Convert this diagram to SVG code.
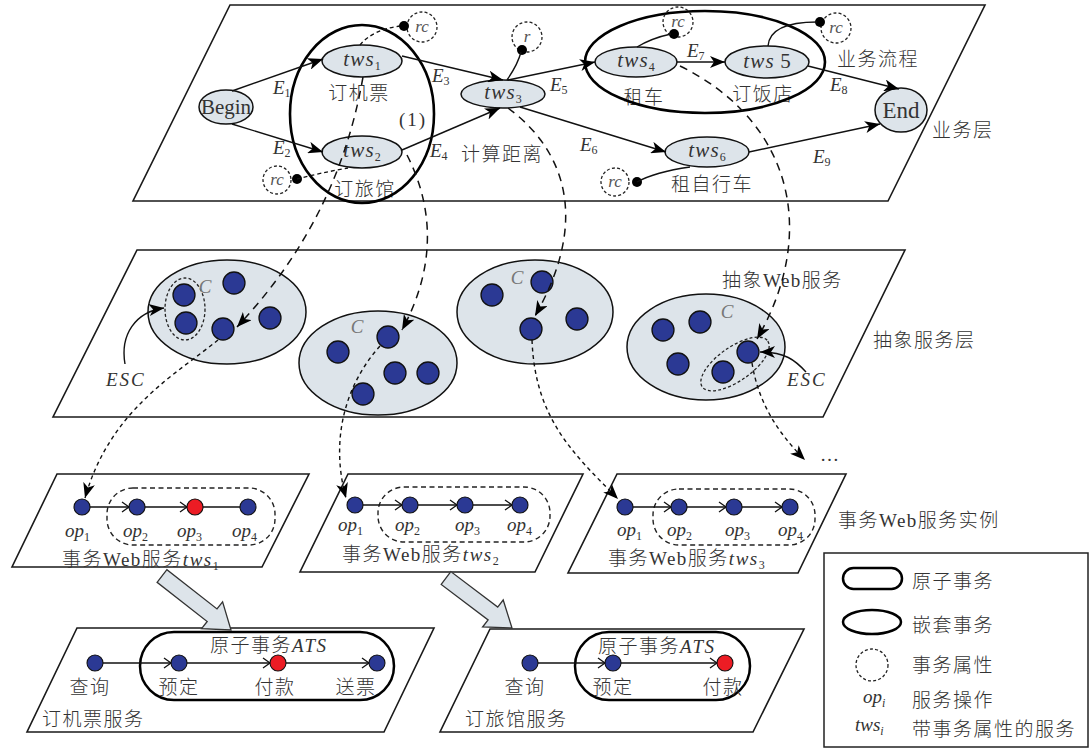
<svg xmlns="http://www.w3.org/2000/svg" width="1090" height="748" viewBox="0 0 1090 748">
<defs>
<style>
.layer{fill:#fff;stroke:#1a1a1a;stroke-width:1.6}
.task{fill:#dde4ea;stroke:#111;stroke-width:1.5}
.nest{fill:none;stroke:#000;stroke-width:2.6}
.prop{fill:none;stroke:#222;stroke-width:1.3;stroke-dasharray:3 2.2}
.svc{fill:#dde4ea;stroke:#111;stroke-width:1.5}
.ws{fill:#2b3994;stroke:#111;stroke-width:1.3}
.op{fill:#2b3994;stroke:#111;stroke-width:1.1}
.pay{fill:#ec1c24;stroke:#111;stroke-width:1.1}
.edge{fill:none;stroke:#111;stroke-width:1.4;marker-end:url(#tip)}
.link{fill:none;stroke:#111;stroke-width:1.4}
.dlink{fill:none;stroke:#111;stroke-width:1.3;stroke-dasharray:4 3}
.map{fill:none;stroke:#111;stroke-width:1.5;stroke-dasharray:8 6;marker-end:url(#tip)}
.inv{fill:none;stroke:#111;stroke-width:1.4;stroke-dasharray:4 3.5;marker-end:url(#tip)}
.seq{fill:none;stroke:#111;stroke-width:1.3;marker-end:url(#chev)}
.plain{fill:none;stroke:#111;stroke-width:1.3}
.box{fill:none;stroke:#222;stroke-width:1.4;stroke-dasharray:5 3.5}
.ats{fill:none;stroke:#000;stroke-width:2.5}
.pin{fill:#000}
.big{fill:#dde4ea;stroke:#333;stroke-width:1.3}
text{font-family:"Liberation Serif","Noto Sans CJK SC",serif;font-size:19px;fill:#333}
.zh{letter-spacing:1.5px;font-weight:300}
.i{font-family:"Liberation Serif",serif;font-style:italic}
.s{font-size:12px;font-style:normal;letter-spacing:0}
.c{text-anchor:middle}
.g{fill:#777}
.t{font-size:21px}
.t .i{letter-spacing:1.2px}
.w{letter-spacing:2px}
.rc{font-family:"Liberation Serif",serif;font-size:17px;font-style:italic;fill:#555;text-anchor:middle}
</style>
<marker id="tip" markerUnits="userSpaceOnUse" markerWidth="16" markerHeight="12" refX="15" refY="6" orient="auto"><path d="M0,0 L15,6 L0,12 L4,6 Z" fill="#000"/></marker>
<marker id="chev" markerUnits="userSpaceOnUse" markerWidth="10" markerHeight="12" refX="8" refY="6" orient="auto"><path d="M1,1 L8,6 L1,11" fill="none" stroke="#111" stroke-width="1.3"/></marker>
</defs>

<!-- layers -->
<g id="business-layer">
<polygon class="layer" points="230,5 985,5 888,201 133,201"/>
<text x="932" y="137" class="zh">业务层</text>
<text x="837" y="66" class="zh">业务流程</text>
</g>
<g id="abstract-layer">
<polygon class="layer" points="137,250 905,250 823,417 53,417"/>
<text x="873" y="347" class="zh">抽象服务层</text>
<text x="722" y="287" class="zh">抽象Web服务</text>
</g>
<g id="instance-layer">
<text x="838" y="527" class="zh">事务Web服务实例</text>
</g>

<!-- business process nodes -->
<g id="begin"><ellipse class="task" cx="226" cy="107" rx="27" ry="17"/><text x="226" y="114" class="c" style="font-size:21px">Begin</text></g>
<g id="tws1"><ellipse class="task" cx="362" cy="61" rx="40" ry="16"/><text x="362" y="66" class="c t"><tspan class="i">tws</tspan><tspan class="s" dy="4">1</tspan></text><text x="359" y="100" class="c zh">订机票</text></g>
<g id="tws2"><ellipse class="task" cx="362" cy="152" rx="40" ry="16"/><text x="362" y="157" class="c t"><tspan class="i">tws</tspan><tspan class="s" dy="4">2</tspan></text><text x="365" y="196" class="c zh">订旅馆</text></g>
<g id="tws3"><ellipse class="task" cx="503" cy="94" rx="42" ry="14"/><text x="503" y="99" class="c t"><tspan class="i">tws</tspan><tspan class="s" dy="4">3</tspan></text><text x="502" y="161" class="c zh">计算距离</text></g>
<g id="tws4"><ellipse class="task" cx="636" cy="62" rx="41" ry="15"/><text x="636" y="67" class="c t"><tspan class="i">tws</tspan><tspan class="s" dy="4">4</tspan></text><text x="644" y="104" class="c zh">租车</text></g>
<g id="tws5"><ellipse class="task" cx="767" cy="62" rx="42" ry="16"/><text x="767" y="68" class="c t"><tspan class="i">tws</tspan> 5</text><text x="763" y="101" class="c zh">订饭店</text></g>
<g id="tws6"><ellipse class="task" cx="707" cy="152" rx="42" ry="15"/><text x="707" y="157" class="c t"><tspan class="i">tws</tspan><tspan class="s" dy="4">6</tspan></text><text x="712" y="191" class="c zh">租自行车</text></g>
<g id="end"><ellipse class="task" cx="901" cy="110" rx="26" ry="22"/><text x="901" y="118" class="c" style="font-size:23px">End</text></g>
<g id="nested-1"><ellipse class="nest" cx="362" cy="114" rx="72" ry="89"/><text x="413" y="126" class="c" style="letter-spacing:2px">(1)</text></g>
<g id="nested-2"><ellipse class="nest" cx="705" cy="62" rx="120" ry="51"/></g>

<!-- transaction properties -->
<g id="prop-tws1"><circle class="prop" cx="422" cy="27" r="15"/><text x="422" y="32" class="rc">rc</text><circle class="pin" cx="404" cy="26" r="5"/></g>
<g id="prop-tws2"><circle class="prop" cx="277" cy="180" r="14"/><text x="277" y="185" class="rc">rc</text><circle class="pin" cx="297" cy="179" r="5"/></g>
<g id="prop-tws3"><circle class="prop" cx="527" cy="37" r="15"/><text x="527" y="42" class="rc">r</text><circle class="pin" cx="522" cy="50" r="5"/></g>
<g id="prop-tws4"><circle class="prop" cx="678" cy="22" r="15"/><text x="678" y="27" class="rc">rc</text><circle class="pin" cx="674" cy="34" r="5"/></g>
<g id="prop-tws5"><circle class="prop" cx="836" cy="28" r="15"/><text x="836" y="33" class="rc">rc</text><circle class="pin" cx="820" cy="22" r="5"/></g>
<g id="prop-tws6"><circle class="prop" cx="615" cy="182" r="14"/><text x="615" y="187" class="rc">rc</text><circle class="pin" cx="637" cy="182" r="5"/></g>

<!-- edge labels -->
<g id="edge-labels">
<text x="273" y="94" class="i">E<tspan class="s" dy="3">1</tspan></text>
<text x="273" y="154" class="i">E<tspan class="s" dy="3">2</tspan></text>
<text x="432" y="82" class="i">E<tspan class="s" dy="3">3</tspan></text>
<text x="430" y="157" class="i">E<tspan class="s" dy="3">4</tspan></text>
<text x="550" y="91" class="i">E<tspan class="s" dy="3">5</tspan></text>
<text x="580" y="151" class="i">E<tspan class="s" dy="3">6</tspan></text>
<text x="687" y="57" class="i">E<tspan class="s" dy="3">7</tspan></text>
<text x="830" y="91" class="i">E<tspan class="s" dy="3">8</tspan></text>
<text x="813" y="163" class="i">E<tspan class="s" dy="3">9</tspan></text>
</g>

<!-- abstract web service clusters -->
<g id="cluster-1">
<ellipse class="svc" cx="227" cy="312" rx="79" ry="52"/>
<ellipse class="prop" cx="185" cy="309" rx="20" ry="31"/>
<circle class="ws" cx="184" cy="295" r="11"/><circle class="ws" cx="186" cy="323" r="11"/>
<circle class="ws" cx="234" cy="283" r="11"/><circle class="ws" cx="270" cy="318" r="11"/><circle class="ws" cx="223" cy="329" r="11"/>
<text x="205" y="293" class="c i g">C</text>
<text x="106" y="386" class="i w">ESC</text>
</g>
<g id="cluster-2">
<ellipse class="svc" cx="378" cy="363" rx="79" ry="52"/>
<circle class="ws" cx="338" cy="352" r="11"/><circle class="ws" cx="388" cy="337" r="11"/><circle class="ws" cx="395" cy="373" r="11"/><circle class="ws" cx="428" cy="373" r="11"/><circle class="ws" cx="363" cy="394" r="11"/>
<text x="357" y="333" class="c i g">C</text>
</g>
<g id="cluster-3">
<ellipse class="svc" cx="535" cy="312" rx="78" ry="52"/>
<circle class="ws" cx="492" cy="295" r="11"/><circle class="ws" cx="542" cy="282" r="11"/><circle class="ws" cx="531" cy="329" r="11"/><circle class="ws" cx="577" cy="319" r="11"/>
<text x="517" y="284" class="c i g">C</text>
</g>
<g id="cluster-4">
<ellipse class="svc" cx="706" cy="347" rx="79" ry="53"/>
<ellipse class="prop" cx="735" cy="364" rx="40" ry="17" transform="rotate(-35 735 364)"/>
<circle class="ws" cx="663" cy="330" r="11"/><circle class="ws" cx="700" cy="322" r="11"/><circle class="ws" cx="678" cy="364" r="11"/><circle class="ws" cx="723" cy="372" r="11"/><circle class="ws" cx="748" cy="352" r="11"/>
<text x="727" y="318" class="c i g">C</text>
<text x="787" y="386" class="i w">ESC</text>
</g>
<g id="more"><text x="820" y="461">…</text></g>

<!-- transactional web service instances -->
<g id="instance-tws1">
<polygon class="layer" points="57,474 309,474 262,567 12,567"/>
<rect class="box" x="107" y="488" width="168" height="57" rx="26"/>
<path class="seq" d="M90,507 H129"/><path class="seq" d="M145,507 H187"/><path class="plain" d="M203,507 H240"/>
<circle class="op" cx="82" cy="507" r="8"/><circle class="op" cx="137" cy="507" r="8"/><circle class="pay" cx="195" cy="507" r="8"/><circle class="op" cx="248" cy="507" r="8"/>
<text x="65" y="537" class="i">op<tspan class="s" dy="4">1</tspan></text>
<text x="123" y="537" class="i">op<tspan class="s" dy="4">2</tspan></text>
<text x="177" y="537" class="i">op<tspan class="s" dy="4">3</tspan></text>
<text x="232" y="537" class="i">op<tspan class="s" dy="4">4</tspan></text>
<text x="62" y="566" class="zh">事务Web服务<tspan class="i">tws</tspan><tspan class="s" dy="4">1</tspan></text>
</g>
<g id="instance-tws2">
<polygon class="layer" points="348,474 583,474 535,572 300,572"/>
<rect class="box" x="378" y="487" width="172" height="55" rx="26"/>
<path class="seq" d="M363,505 H402"/><path class="seq" d="M418,505 H457"/><path class="seq" d="M473,505 H512"/>
<circle class="op" cx="355" cy="505" r="8"/><circle class="op" cx="410" cy="505" r="8"/><circle class="op" cx="465" cy="505" r="8"/><circle class="op" cx="520" cy="505" r="8"/>
<text x="338" y="531" class="i">op<tspan class="s" dy="4">1</tspan></text>
<text x="395" y="531" class="i">op<tspan class="s" dy="4">2</tspan></text>
<text x="455" y="531" class="i">op<tspan class="s" dy="4">3</tspan></text>
<text x="507" y="531" class="i">op<tspan class="s" dy="4">4</tspan></text>
<text x="342" y="561" class="zh">事务Web服务<tspan class="i">tws</tspan><tspan class="s" dy="4">2</tspan></text>
</g>
<g id="instance-tws3">
<polygon class="layer" points="617,474 846,474 798,573 568,573"/>
<rect class="box" x="653" y="489" width="162" height="56" rx="26"/>
<path class="seq" d="M633,507 H671"/><path class="seq" d="M687,507 H726"/><path class="seq" d="M742,507 H782"/>
<circle class="op" cx="625" cy="507" r="8"/><circle class="op" cx="679" cy="507" r="8"/><circle class="op" cx="734" cy="507" r="8"/><circle class="op" cx="790" cy="507" r="8"/>
<text x="617" y="536" class="i">op<tspan class="s" dy="4">1</tspan></text>
<text x="667" y="536" class="i">op<tspan class="s" dy="4">2</tspan></text>
<text x="725" y="536" class="i">op<tspan class="s" dy="4">3</tspan></text>
<text x="778" y="536" class="i">op<tspan class="s" dy="4">4</tspan></text>
<text x="608" y="565" class="zh">事务Web服务<tspan class="i">tws</tspan><tspan class="s" dy="4">3</tspan></text>
</g>

<!-- concrete services with atomic transactions -->
<g id="flight-service">
<polygon class="layer" points="77,628 434,628 384,732 27,732"/>
<rect class="ats" x="140" y="632" width="254" height="68" rx="34"/>
<path class="seq" d="M103,663 H171"/><path class="seq" d="M187,663 H270"/><path class="seq" d="M286,663 H369"/>
<circle class="op" cx="95" cy="663" r="8"/><circle class="op" cx="179" cy="663" r="8"/><circle class="pay" cx="278" cy="663" r="8"/><circle class="op" cx="377" cy="663" r="8"/>
<text x="210" y="652" class="zh">原子事务<tspan class="i">ATS</tspan></text>
<text x="90" y="694" class="c zh">查询</text><text x="179" y="694" class="c zh">预定</text><text x="275" y="694" class="c zh">付款</text><text x="356" y="694" class="c zh">送票</text>
<text x="42" y="726" class="zh">订机票服务</text>
</g>
<g id="hotel-service">
<polygon class="layer" points="490,629 804,629 753,732 440,732"/>
<rect class="ats" x="575" y="632" width="175" height="68" rx="34"/>
<path class="seq" d="M538,663 H605"/><path class="seq" d="M621,663 H717"/>
<circle class="op" cx="530" cy="663" r="8"/><circle class="op" cx="613" cy="663" r="8"/><circle class="pay" cx="725" cy="663" r="8"/>
<text x="598" y="653" class="zh">原子事务<tspan class="i">ATS</tspan></text>
<text x="525" y="694" class="c zh">查询</text><text x="613" y="694" class="c zh">预定</text><text x="723" y="694" class="c zh">付款</text>
<text x="465" y="726" class="zh">订旅馆服务</text>
</g>

<!-- refinement arrows -->
<g id="refine">
<polygon class="big" points="157.1,582.3 166.9,569.7 217,608.9 222.6,601.8 231,630 201.6,628.6 207.2,621.5"/>
<polygon class="big" points="441.2,584.4 450.8,571.6 497.7,607.1 503.2,600 512,628 482.6,627 488.1,619.9"/>
</g>

<!-- legend -->
<g id="legend">
<rect x="824" y="553" width="264" height="194" fill="#fff" stroke="#222" stroke-width="1.5"/>
<rect class="ats" x="843" y="568" width="59" height="21" rx="10.5"/>
<text x="912" y="588" class="zh">原子事务</text>
<ellipse class="ats" cx="872" cy="622" rx="29" ry="12"/>
<text x="912" y="632" class="zh">嵌套事务</text>
<circle class="prop" cx="872" cy="665" r="16"/>
<text x="912" y="672" class="zh">事务属性</text>
<text x="863" y="703" class="i">op<tspan class="s" dy="4" style="font-style:italic">i</tspan></text>
<text x="912" y="707" class="zh">服务操作</text>
<text x="855" y="731" class="i">tws<tspan class="s" dy="4" style="font-style:italic">i</tspan></text>
<text x="912" y="736" class="zh">带事务属性的服务</text>
</g>

<!-- connectors -->
<g id="connectors">
<path class="edge" d="M232,91 L323,59"/>
<path class="edge" d="M232,124 L323,152"/>
<path class="edge" d="M402,56 L503,80"/>
<path class="edge" d="M402,150 L500,108"/>
<path class="edge" d="M508,80 L595,62"/>
<path class="edge" d="M520,107 L666,152"/>
<path class="edge" d="M677,62 L725,62"/>
<path class="edge" d="M808,66 L899,89"/>
<path class="edge" d="M749,152 L880,124"/>
<path class="dlink" d="M360,45 Q372,30 400,26"/>
<path class="dlink" d="M297,179 Q320,173 348,168"/>
<path class="link" d="M507,80 Q518,64 521,52"/>
<path class="link" d="M637,47 Q652,38 671,34"/>
<path class="link" d="M768,46 Q770,22 817,22"/>
<path class="link" d="M637,182 Q655,172 690,167"/>
<path class="map" d="M363,77 C345,180 300,260 237,327"/>
<path class="map" d="M407,155 C430,200 440,260 402,330"/>
<path class="map" d="M508,108 C565,150 590,220 535,316"/>
<path class="map" d="M680,66 C790,120 820,230 757,339"/>
<path class="edge" d="M125,364 C120,335 135,312 164,308"/>
<path class="edge" d="M806,372 C795,360 785,352 760,352"/>
<path class="inv" d="M218,340 C175,375 110,410 85,498"/>
<path class="inv" d="M380,346 C345,385 330,440 346,498"/>
<path class="inv" d="M532,340 C535,420 575,455 618,499"/>
<path class="inv" d="M752,363 C758,400 775,430 805,460"/>
</g>
</svg>
